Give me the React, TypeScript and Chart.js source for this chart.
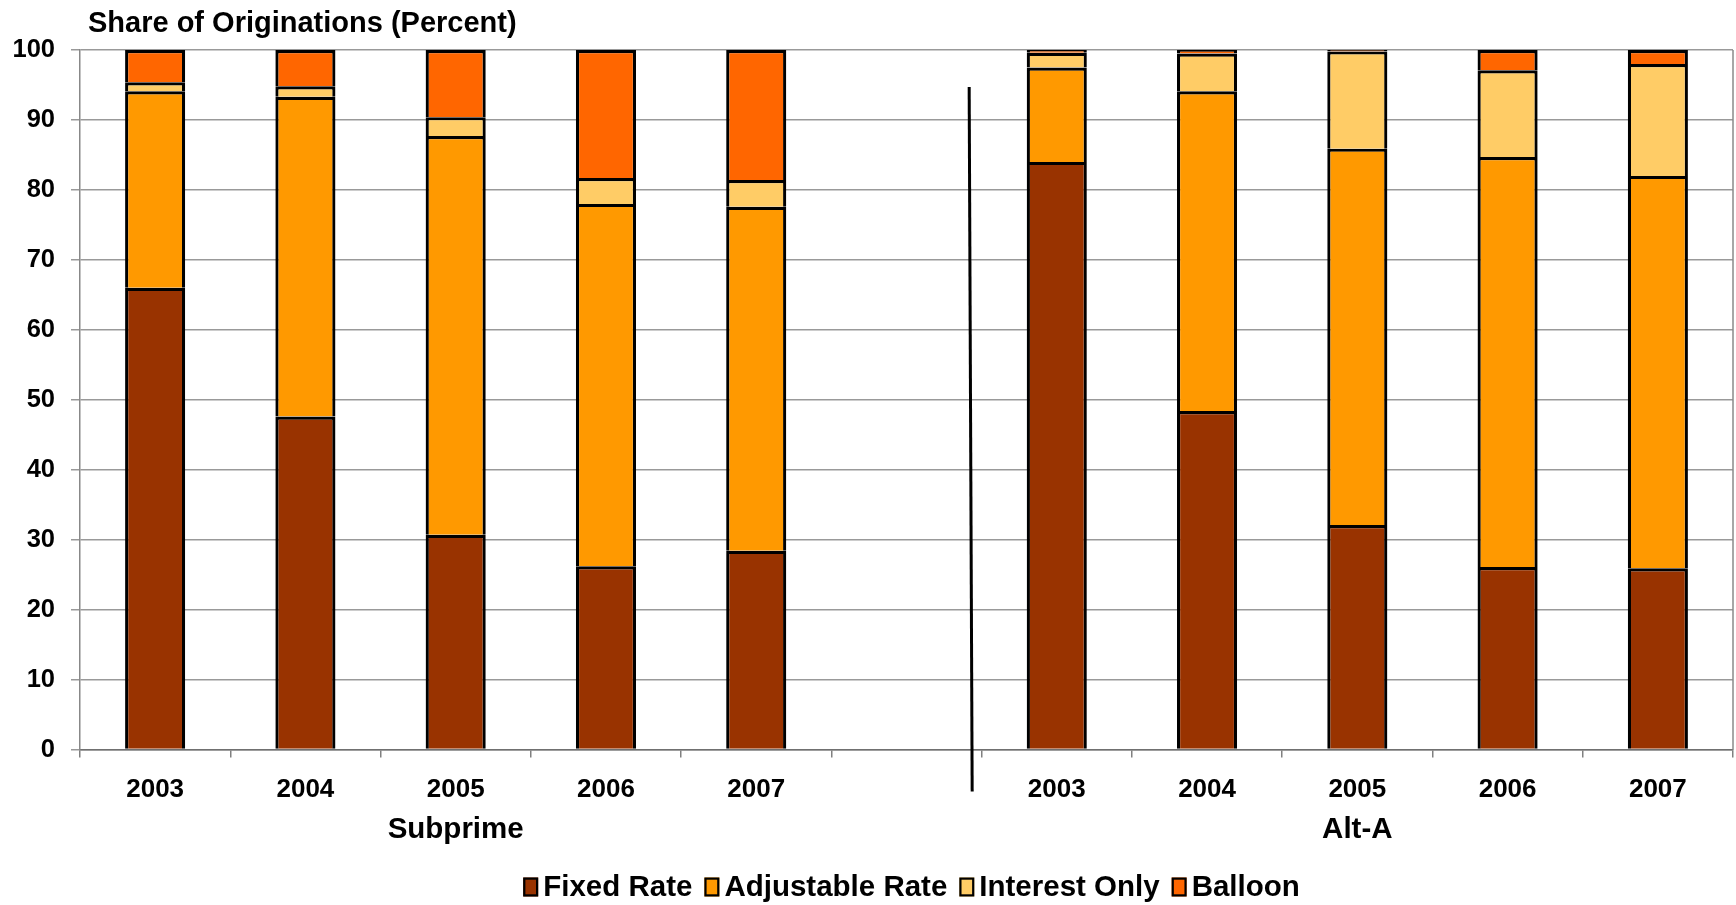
import React, { useEffect, useRef } from 'react';
import { Chart, registerables } from 'chart.js';

Chart.register(...registerables);

const FONT = '"Liberation Sans", Arial, Helvetica, sans-serif';

const titleText = 'Share of Originations (Percent)';
const categories = ['2003', '2004', '2005', '2006', '2007', '', '2003', '2004', '2005', '2006', '2007'];
const groupLabels = ['', '', 'Subprime', '', '', '', '', '', 'Alt-A', '', ''];
const seriesNames = ['Fixed Rate', 'Adjustable Rate', 'Interest Only', 'Balloon'];
const seriesColors = ['#993300', '#FF9900', '#FFCC66', '#FF6600'];
const fixedRate = [66.0, 47.6, 30.7, 26.2, 28.4, null, 84.0, 48.4, 32.1, 26.1, 25.9];
const adjustableRate = [28.1, 45.7, 57.0, 51.8, 49.2, null, 13.5, 45.7, 53.8, 58.6, 56.1];
const interestOnly = [1.3, 1.5, 2.7, 3.7, 3.8, null, 2.1, 5.4, 13.9, 12.4, 16.0];
const balloon = [4.6, 5.2, 9.6, 18.3, 18.6, null, 0.4, 0.5, 0.2, 2.9, 2.0];
const yTicks = [0, 10, 20, 30, 40, 50, 60, 70, 80, 90, 100];

const decorPlugin = {
  id: 'decor',
  afterDraw(chart: any) {
    const { ctx, chartArea, scales } = chart;
    const x = scales.x;
    const y = scales.y;
    ctx.save();

    // title
    ctx.font = `bold 29px ${FONT}`;
    ctx.fillStyle = '#000';
    ctx.textBaseline = 'middle';
    ctx.textAlign = 'left';
    ctx.fillText(titleText, chartArea.left + 8, 24);

    // right border of plot area
    ctx.strokeStyle = '#8a8a8a';
    ctx.lineWidth = 1.5;
    ctx.beginPath();
    ctx.moveTo(chartArea.right, chartArea.top);
    ctx.lineTo(chartArea.right, chartArea.bottom);
    ctx.stroke();

    // divider between the two groups
    const step = x.getPixelForValue(6) - x.getPixelForValue(5);
    const xd = x.getPixelForValue(5) + 0.427 * step;
    ctx.strokeStyle = '#000';
    ctx.lineWidth = 3;
    ctx.beginPath();
    ctx.moveTo(xd - 1.5, y.getPixelForValue(94.7));
    ctx.lineTo(xd + 1.5, chartArea.bottom + 42);
    ctx.stroke();

    // legend
    const fontSize = 29.5;
    ctx.font = `bold ${fontSize}px ${FONT}`;
    const boxW = 15;
    const boxH = 19;
    const gapBoxText = 5;
    const gapItems = 12;
    const widths = seriesNames.map((n) => ctx.measureText(n).width);
    const total =
      widths.reduce((a, b) => a + b, 0) + seriesNames.length * (boxW + gapBoxText) + (seriesNames.length - 1) * gapItems;
    let cx = (chartArea.left + chartArea.right) / 2 - total / 2 + 5;
    const cy = 887;
    seriesNames.forEach((n, i) => {
      ctx.fillStyle = seriesColors[i];
      ctx.fillRect(cx, cy - boxH / 2, boxW, boxH);
      ctx.strokeStyle = '#000';
      ctx.lineWidth = 2.2;
      ctx.strokeRect(cx + 1.1, cy - boxH / 2 + 1.1, boxW - 2.2, boxH - 2.2);
      cx += boxW + gapBoxText;
      ctx.fillStyle = '#000';
      ctx.fillText(n, cx, cy + 1);
      cx += widths[i] + gapItems;
    });
    ctx.restore();
  },
};

export default function App() {
  const canvasRef = useRef<HTMLCanvasElement>(null);

  useEffect(() => {
    const canvas = canvasRef.current;
    if (!canvas) return;
    const seriesData = [fixedRate, adjustableRate, interestOnly, balloon];
    const chart = new Chart(canvas, {
      type: 'bar',
      data: {
        labels: categories,
        datasets: seriesNames.map((name, i) => ({
          label: name,
          data: seriesData[i] as any,
          backgroundColor: seriesColors[i],
          borderColor: '#000',
          borderWidth: 3.2,
          barPercentage: 0.4,
          categoryPercentage: 1.0,
        })),
      },
      options: {
        responsive: false,
        maintainAspectRatio: false,
        animation: false,
        layout: { padding: { left: 0, right: 3, top: 50, bottom: 56.5 } },
        plugins: {
          legend: { display: false },
          tooltip: { enabled: false },
          title: { display: false },
        },
        scales: {
          x: {
            stacked: true,
            offset: true,
            weight: 0,
            grid: {
              display: true,
              drawOnChartArea: false,
              drawTicks: true,
              tickLength: 8,
              offset: true,
              color: '#808080',
              lineWidth: 1.5,
            },
            border: { display: true, color: '#707070', width: 1.5 },
            ticks: {
              color: '#000',
              font: { family: FONT, size: 26, weight: 'bold' },
              padding: 17,
              maxRotation: 0,
              autoSkip: false,
            },
            afterFit: (s: any) => {
              s.height = 59;
            },
          },
          x2: {
            type: 'category',
            labels: groupLabels,
            position: 'bottom',
            offset: true,
            weight: 1,
            grid: { display: false, drawTicks: false },
            border: { display: false },
            ticks: {
              color: '#000',
              font: { family: FONT, size: 29.5, weight: 'bold' },
              padding: 4,
              maxRotation: 0,
              autoSkip: false,
            },
            afterFit: (s: any) => {
              s.height = 40;
            },
          },
          y: {
            stacked: true,
            min: 0,
            max: 100,
            afterBuildTicks: (s: any) => {
              s.ticks = yTicks.map((v) => ({ value: v }));
            },
            ticks: {
              color: '#000',
              font: { family: FONT, size: 25.5, weight: 'bold' },
              padding: 16,
            },
            grid: { color: '#999', lineWidth: 1.5, tickLength: 9 },
            border: { display: true, color: '#888', width: 1.5 },
            afterFit: (s: any) => {
              s.width = 80;
            },
          },
        } as any,
      },
      plugins: [decorPlugin],
    });
    return () => chart.destroy();
  }, []);

  return (
    <div style={{ position: 'absolute', left: 0, top: 0, width: 1736, height: 905, background: '#fff' }}>
      <canvas ref={canvasRef} width={1736} height={905} style={{ display: 'block' }} />
    </div>
  );
}
